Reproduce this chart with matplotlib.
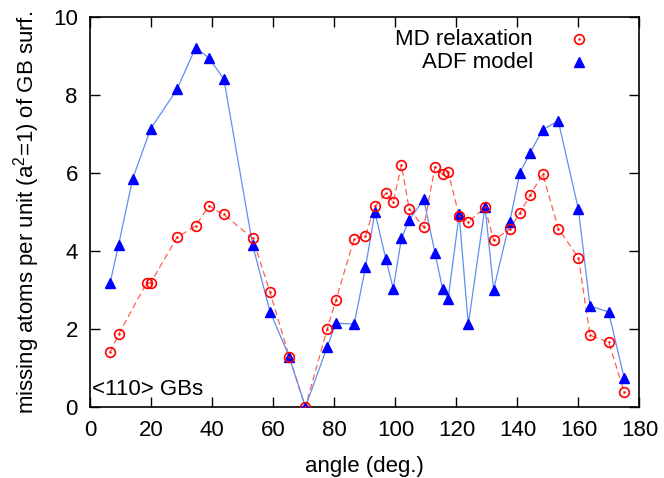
import matplotlib
matplotlib.use("Agg")
import matplotlib.pyplot as plt

plt.rcParams['font.family'] = ['Liberation Sans', 'DejaVu Sans']
plt.rcParams['mathtext.fontset'] = 'custom'
plt.rcParams['mathtext.rm'] = 'Liberation Sans'

# MD relaxation (red circles)
md_angle = [6.45, 9.3, 18.5, 19.8, 28.4, 34.5, 38.9, 43.8, 53.2, 58.9, 65.2, 70.5,
            77.6, 80.5, 86.5, 90.2, 93.3, 96.9, 99.3, 102.0, 104.5, 109.3, 113.0,
            115.5, 117.3, 120.9, 123.9, 129.4, 132.2, 137.5, 140.8, 144.2, 148.3,
            153.4, 160.0, 163.8, 169.9, 175.0]
md_missing = [1.40, 1.87, 3.19, 3.19, 4.35, 4.65, 5.16, 4.94, 4.33, 2.95, 1.29, 0.0,
              1.99, 2.74, 4.32, 4.40, 5.15, 5.48, 5.26, 6.20, 5.09, 4.61, 6.17,
              5.98, 6.03, 4.91, 4.75, 5.12, 4.28, 4.56, 4.98, 5.44, 5.98,
              4.58, 3.83, 1.84, 1.67, 0.39]

# ADF model (blue triangles)
adf_angle = [6.45, 9.3, 13.9, 19.8, 28.4, 34.5, 38.9, 43.8, 53.2, 58.9, 65.2, 70.5,
             77.6, 80.5, 86.5, 90.2, 93.3, 96.9, 99.3, 102.0, 104.5, 109.3, 113.0,
             115.5, 117.3, 120.9, 123.9, 129.4, 132.2, 137.5, 140.8, 144.2, 148.3,
             153.4, 160.0, 163.8, 169.9, 175.0]
adf_missing = [3.17, 4.17, 5.86, 7.14, 8.15, 9.22, 8.96, 8.41, 4.16, 2.45, 1.29, 0.0,
               1.53, 2.15, 2.13, 3.58, 5.0, 3.79, 3.04, 4.33, 4.79, 5.33, 3.95,
               3.02, 2.78, 4.94, 2.12, 5.14, 3.01, 4.76, 6.01, 6.53, 7.12,
               7.34, 5.07, 2.59, 2.44, 0.74]

fig = plt.figure(figsize=(6.64, 4.78), dpi=100)
ax = fig.add_axes([0.136, 0.1485, 0.827, 0.8153])

# lines
ax.plot(md_angle, md_missing, color='#ff6050', lw=0.9, ls=(0, (5, 3)), zorder=2)
ax.plot(adf_angle, adf_missing, color='#5f8fef', lw=0.9, zorder=2)

# markers
ax.plot(adf_angle, adf_missing, ls='none', marker='^', ms=6.5, color='#0000ff',
        mec='#0000ff', zorder=3)
ax.plot(md_angle, md_missing, ls='none', marker='o', ms=7, mfc='none',
        mec='#ff0000', mew=1.2, zorder=4)
ax.plot(md_angle, md_missing, ls='none', marker='.', ms=1.5, color='#ff0000', zorder=4)

# legend drawn as text + markers (gnuplot style)
ax.text(0.806, 0.944, 'MD relaxation', transform=ax.transAxes, ha='right', va='center',
        fontsize=16)
ax.text(0.806, 0.885, 'ADF model', transform=ax.transAxes, ha='right', va='center',
        fontsize=16)
ax.plot([0.89], [0.944], transform=ax.transAxes, ls='none', marker='o', ms=7,
        mfc='none', mec='#ff0000', mew=1.2, clip_on=False)
ax.plot([0.89], [0.944], transform=ax.transAxes, ls='none', marker='.', ms=1.5,
        color='#ff0000', clip_on=False)
ax.plot([0.89], [0.885], transform=ax.transAxes, ls='none', marker='^', ms=6.5,
        color='#0000ff', clip_on=False)

ax.text(0.003, 0.046, '<110> GBs', transform=ax.transAxes, ha='left', va='center',
        fontsize=16)

ax.set_xlim(0, 180)
ax.set_ylim(0, 10)
ax.set_xticks(range(0, 181, 20))
ax.set_yticks(range(0, 11, 2))
ax.tick_params(direction='in', top=True, right=True, length=7, width=1,
               labelsize=16, pad=9)
for s in ax.spines.values():
    s.set_linewidth(1.2)

ax.set_xlabel('angle (deg.)', fontsize=16, labelpad=11)
ax.set_ylabel('missing atoms per unit (a$^2$=1) of GB surf.', fontsize=16, labelpad=8)

fig.savefig('out.png', dpi=100)
